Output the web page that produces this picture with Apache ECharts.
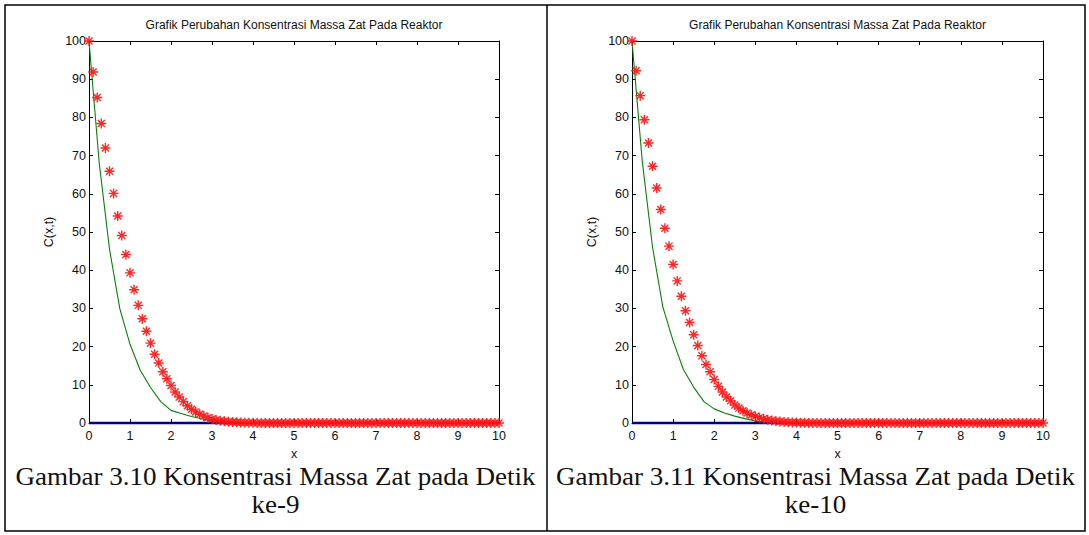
<!DOCTYPE html>
<html>
<head>
<meta charset="utf-8">
<script src="https://cdn.jsdelivr.net/npm/echarts@6/dist/echarts.min.js"></script>
<style>
  html, body { margin: 0; padding: 0; background: #ffffff; }
  #chart { width: 1089px; height: 535px; }
</style>
</head>
<body>
<div id="chart"></div>
<script>
// Axis ticks
const xTicks = [0, 1, 2, 3, 4, 5, 6, 7, 8, 9, 10];
const yTicks = [0, 10, 20, 30, 40, 50, 60, 70, 80, 90, 100];

// Sample positions of the numerical solution (step 0.1)
const xGrid = [
  0, 0.1, 0.2, 0.3, 0.4, 0.5, 0.6, 0.7, 0.8, 0.9,
  1, 1.1, 1.2, 1.3, 1.4, 1.5, 1.6, 1.7, 1.8, 1.9,
  2, 2.1, 2.2, 2.3, 2.4, 2.5, 2.6, 2.7, 2.8, 2.9,
  3, 3.1, 3.2, 3.3, 3.4, 3.5, 3.6, 3.7, 3.8, 3.9,
  4, 4.1, 4.2, 4.3, 4.4, 4.5, 4.6, 4.7, 4.8, 4.9,
  5, 5.1, 5.2, 5.3, 5.4, 5.5, 5.6, 5.7, 5.8, 5.9,
  6, 6.1, 6.2, 6.3, 6.4, 6.5, 6.6, 6.7, 6.8, 6.9,
  7, 7.1, 7.2, 7.3, 7.4, 7.5, 7.6, 7.7, 7.8, 7.9,
  8, 8.1, 8.2, 8.3, 8.4, 8.5, 8.6, 8.7, 8.8, 8.9,
  9, 9.1, 9.2, 9.3, 9.4, 9.5, 9.6, 9.7, 9.8, 9.9,
  10
];

// Concentration at second 9 (numerical, red asterisks)
const concT9 = [
  100, 91.9, 85.2, 78.4, 72.0, 65.9, 60.1, 54.2, 49.1, 44.1,
  39.3, 34.9, 30.8, 27.3, 24.0, 20.9, 18.0, 15.7, 13.4, 11.6,
  9.8, 8.1, 6.8, 5.6, 4.5, 3.6, 2.9, 2.3, 1.8, 1.4,
  1.05, 0.8, 0.6, 0.45, 0.33, 0.25, 0.18, 0.13, 0.09, 0.06,
  0.04, 0, 0, 0, 0, 0, 0, 0, 0, 0,
  0, 0, 0, 0, 0, 0, 0, 0, 0, 0,
  0, 0, 0, 0, 0, 0, 0, 0, 0, 0,
  0, 0, 0, 0, 0, 0, 0, 0, 0, 0,
  0, 0, 0, 0, 0, 0, 0, 0, 0, 0,
  0, 0, 0, 0, 0, 0, 0, 0, 0, 0,
  0
];

// Concentration at second 10 (numerical, red asterisks)
const concT10 = [
  100, 92.2, 85.7, 79.4, 73.3, 67.2, 61.5, 55.9, 51.0, 46.3,
  41.5, 37.2, 33.2, 29.4, 26.3, 23.1, 20.3, 17.6, 15.3, 13.4,
  11.4, 9.6, 8.1, 6.8, 5.8, 4.7, 3.9, 3.2, 2.6, 2.1,
  1.75, 1.4, 1.1, 0.85, 0.65, 0.5, 0.38, 0.28, 0.2, 0.15,
  0.1, 0.07, 0.05, 0.03, 0.02, 0, 0, 0, 0, 0,
  0, 0, 0, 0, 0, 0, 0, 0, 0, 0,
  0, 0, 0, 0, 0, 0, 0, 0, 0, 0,
  0, 0, 0, 0, 0, 0, 0, 0, 0, 0,
  0, 0, 0, 0, 0, 0, 0, 0, 0, 0,
  0, 0, 0, 0, 0, 0, 0, 0, 0, 0,
  0
];

// Reference curve (green line), coarser sampling
const refX = [0, 0.25, 0.5, 0.75, 1, 1.25, 1.5, 1.75, 2, 2.25, 2.5, 2.75, 3, 3.25, 3.5, 4, 10];
const refT9 = [100, 68, 45.5, 30, 20.6, 13.8, 9.3, 5.6, 3.3, 2.5, 1.7, 1.1, 0.5, 0.25, 0.1, 0, 0];
const refT10 = [100, 68.5, 46, 30.4, 21.5, 14, 9.4, 5.6, 3.7, 2.6, 1.8, 1.15, 0.5, 0.25, 0.1, 0, 0];

// Baseline (blue line)
const baseX = [0, 10];
const baseY = [0, 0];

const plotTitle = 'Grafik Perubahan Konsentrasi Massa Zat Pada Reaktor';
const captions = [
  ['Gambar 3.10 Konsentrasi Massa Zat pada Detik', 'ke-9'],
  ['Gambar 3.11 Konsentrasi Massa Zat pada Detik', 'ke-10']
];

const SANS = '"Liberation Sans", Arial, sans-serif';
const SERIF = '"Liberation Serif", "Times New Roman", serif';

// Asterisk marker built from four thin bars
const ASTERISK = 'path://M0,4.3H10V5.7H0Z M4.3,0H5.7V10H4.3Z ' +
  'M1.95,1.0L9.0,8.05L8.05,9.0L1.0,1.95Z ' +
  'M8.05,1.0L9.0,1.95L1.95,9.0L1.0,8.05Z';

const panels = [
  { left: 89, width: 410, conc: concT9, ref: refT9, cx: 275.5 },
  { left: 632, width: 411, conc: concT10, ref: refT10, cx: 815.5 }
];

const grids = [], xAxes = [], yAxes = [], series = [];
const pairs = (xs, ys) => xs.map((x, i) => [x, ys[i]]);

panels.forEach((p, g) => {
  grids.push({ left: p.left, top: 41, width: p.width, height: 382 });
  const tick = { show: true, inside: true, length: 4, lineStyle: { color: '#000', width: 1 } };
  const line = { show: true, onZero: false, lineStyle: { color: '#000', width: 1 } };
  const xBase = {
    type: 'value', gridIndex: g, min: xTicks[0], max: xTicks[xTicks.length - 1], interval: 1,
    splitLine: { show: false }, axisLine: line, axisTick: tick
  };
  xAxes.push(Object.assign({}, xBase, {
    position: 'bottom',
    axisLabel: { show: true, margin: 6, color: '#111', fontSize: 12.5, fontFamily: SANS },
    name: 'x', nameLocation: 'middle', nameGap: 25,
    nameTextStyle: { color: '#111', fontSize: 12.5, fontFamily: SANS, lineHeight: 12 }
  }));
  xAxes.push(Object.assign({}, xBase, { position: 'top', axisLabel: { show: false } }));
  const yBase = {
    type: 'value', gridIndex: g, min: yTicks[0], max: yTicks[yTicks.length - 1], interval: 10,
    splitLine: { show: false }, axisLine: line, axisTick: tick
  };
  yAxes.push(Object.assign({}, yBase, {
    position: 'left',
    axisLabel: { show: true, margin: 3, color: '#111', fontSize: 12.5, fontFamily: SANS },
    name: 'C(x,t)', nameLocation: 'middle', nameGap: 34, nameRotate: 90,
    nameTextStyle: { color: '#111', fontSize: 12.5, fontFamily: SANS }
  }));
  yAxes.push(Object.assign({}, yBase, { position: 'right', axisLabel: { show: false } }));

  series.push({
    type: 'line', xAxisIndex: g * 2, yAxisIndex: g * 2,
    data: pairs(refX, p.ref), showSymbol: false, symbol: 'none',
    lineStyle: { color: '#078007', width: 1.1 }, z: 2
  });
  series.push({
    type: 'line', xAxisIndex: g * 2, yAxisIndex: g * 2, clip: false,
    data: pairs(baseX, baseY), showSymbol: false, symbol: 'none',
    lineStyle: { color: '#000080', width: 2.5 }, z: 3
  });
  series.push({
    type: 'scatter', xAxisIndex: g * 2, yAxisIndex: g * 2, clip: false,
    data: pairs(xGrid, p.conc), symbol: ASTERISK, symbolSize: 10,
    itemStyle: { color: '#ff1414', opacity: 0.92 }, z: 4
  });
});

const graphic = [
  // table frame
  { type: 'rect', shape: { x: 5, y: 5, width: 1080, height: 526 },
    style: { fill: 'none', stroke: '#000', lineWidth: 1.5 }, silent: true },
  { type: 'line', shape: { x1: 547, y1: 5, x2: 547, y2: 531 },
    style: { stroke: '#000', lineWidth: 1.5 }, silent: true }
];
panels.forEach((p, g) => {
  graphic.push({ type: 'text', x: p.left + p.width / 2, y: 25,
    style: { text: plotTitle, fill: '#111', font: '12px ' + SANS, textAlign: 'center', textVerticalAlign: 'middle' } });
  graphic.push({ type: 'text', x: p.cx, y: 476, scaleX: 1.04,
    style: { text: captions[g][0], fill: '#111', font: '26px ' + SERIF, textAlign: 'center', textVerticalAlign: 'middle' } });
  graphic.push({ type: 'text', x: p.cx, y: 504, scaleX: 1.04,
    style: { text: captions[g][1], fill: '#111', font: '26px ' + SERIF, textAlign: 'center', textVerticalAlign: 'middle' } });
});

const chart = echarts.init(document.getElementById('chart'), null, { renderer: 'svg' });
chart.setOption({
  animation: false,
  backgroundColor: '#ffffff',
  grid: grids,
  xAxis: xAxes,
  yAxis: yAxes,
  series: series,
  graphic: graphic
});
</script>
</body>
</html>
